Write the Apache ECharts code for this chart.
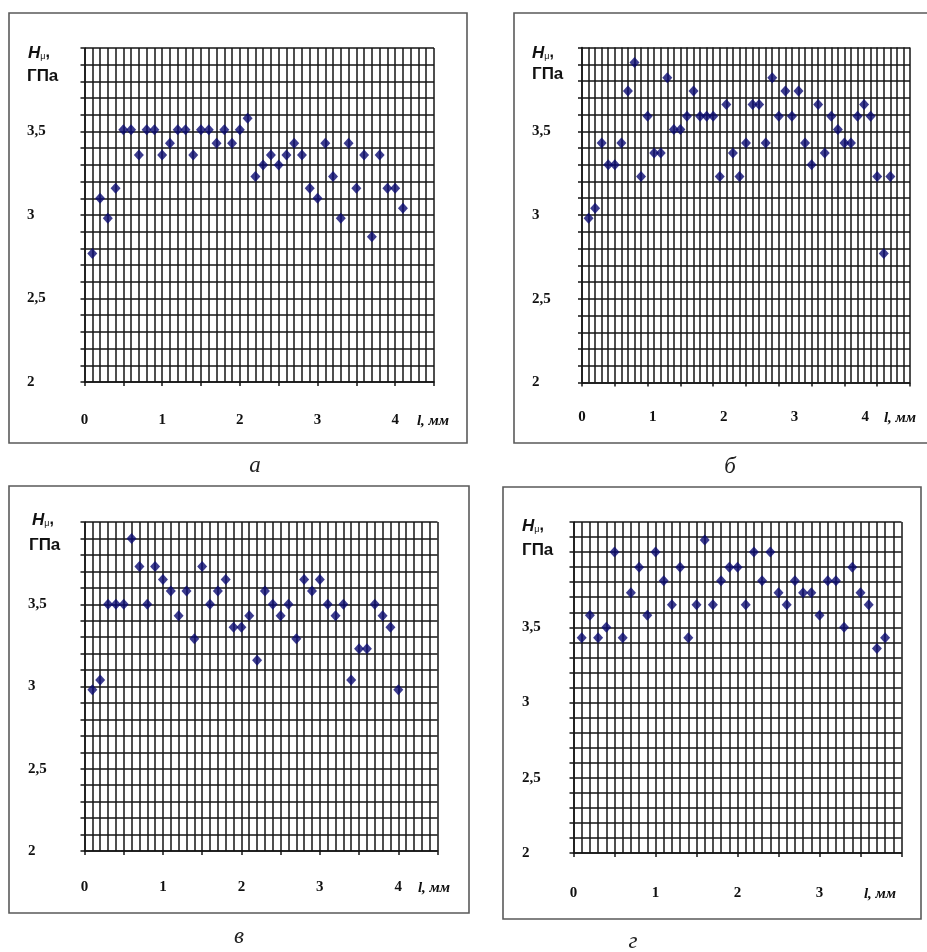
<!DOCTYPE html>
<html>
<head>
<meta charset="utf-8">
<script src="https://cdn.jsdelivr.net/npm/echarts@6/dist/echarts.min.js"></script>
<style>
  body { margin: 0; background: #fff; }
  #chart { width: 927px; height: 952px; }
</style>
</head>
<body>
<div id="chart"></div>
<script>
// panel а: l, мм / Hμ, ГПа
const posA = [0.1, 0.2, 0.3, 0.4, 0.5, 0.6, 0.7, 0.8, 0.9, 1.0, 1.1, 1.2, 1.3, 1.4, 1.5, 1.6, 1.7, 1.8, 1.9, 2.0,
  2.1, 2.2, 2.3, 2.4, 2.5, 2.6, 2.7, 2.8, 2.9, 3.0, 3.1, 3.2, 3.3, 3.4, 3.5, 3.6, 3.7, 3.8, 3.9, 4.0, 4.1]
const hardA = [2.77, 3.10, 2.98, 3.16, 3.51, 3.51, 3.36, 3.51, 3.51, 3.36, 3.43, 3.51, 3.51, 3.36, 3.51, 3.51, 3.43, 3.51, 3.43, 3.51,
  3.58, 3.23, 3.30, 3.36, 3.30, 3.36, 3.43, 3.36, 3.16, 3.10, 3.43, 3.23, 2.98, 3.43, 3.16, 3.36, 2.87, 3.36, 3.16, 3.16, 3.04]

// panel б
const posB = [0.1, 0.2, 0.3, 0.4, 0.5, 0.6, 0.7, 0.8, 0.9, 1.0, 1.1, 1.2, 1.3, 1.4, 1.5, 1.6, 1.7, 1.8, 1.9, 2.0,
  2.1, 2.2, 2.3, 2.4, 2.5, 2.6, 2.7, 2.8, 2.9, 3.0, 3.1, 3.2, 3.3, 3.4, 3.5, 3.6, 3.7, 3.8, 3.9, 4.0,
  4.1, 4.2, 4.3, 4.4, 4.5, 4.6, 4.7]
const hardB = [2.98, 3.04, 3.43, 3.30, 3.30, 3.43, 3.74, 3.91, 3.23, 3.59, 3.37, 3.37, 3.82, 3.51, 3.51, 3.59, 3.74, 3.59, 3.59, 3.59,
  3.23, 3.66, 3.37, 3.23, 3.43, 3.66, 3.66, 3.43, 3.82, 3.59, 3.74, 3.59, 3.74, 3.43, 3.30, 3.66, 3.37, 3.59, 3.51, 3.43,
  3.43, 3.59, 3.66, 3.59, 3.23, 2.77, 3.23]

// panel в
const posC = [0.1, 0.2, 0.3, 0.4, 0.5, 0.6, 0.7, 0.8, 0.9, 1.0, 1.1, 1.2, 1.3, 1.4, 1.5, 1.6, 1.7, 1.8, 1.9, 2.0,
  2.1, 2.2, 2.3, 2.4, 2.5, 2.6, 2.7, 2.8, 2.9, 3.0, 3.1, 3.2, 3.3, 3.4, 3.5, 3.6, 3.7, 3.8, 3.9, 4.0]
const hardC = [2.98, 3.04, 3.50, 3.50, 3.50, 3.90, 3.73, 3.50, 3.73, 3.65, 3.58, 3.43, 3.58, 3.29, 3.73, 3.50, 3.58, 3.65, 3.36, 3.36,
  3.43, 3.16, 3.58, 3.50, 3.43, 3.50, 3.29, 3.65, 3.58, 3.65, 3.50, 3.43, 3.50, 3.04, 3.23, 3.23, 3.50, 3.43, 3.36, 2.98]

// panel г
const posD = [0.1, 0.2, 0.3, 0.4, 0.5, 0.6, 0.7, 0.8, 0.9, 1.0, 1.1, 1.2, 1.3, 1.4, 1.5, 1.6, 1.7, 1.8, 1.9, 2.0,
  2.1, 2.2, 2.3, 2.4, 2.5, 2.6, 2.7, 2.8, 2.9, 3.0, 3.1, 3.2, 3.3, 3.4, 3.5, 3.6, 3.7, 3.8]
const hardD = [3.43, 3.58, 3.43, 3.50, 4.00, 3.43, 3.73, 3.90, 3.58, 4.00, 3.81, 3.65, 3.90, 3.43, 3.65, 4.08, 3.65, 3.81, 3.90, 3.90,
  3.65, 4.00, 3.81, 4.00, 3.73, 3.65, 3.81, 3.73, 3.73, 3.58, 3.81, 3.81, 3.50, 3.90, 3.73, 3.65, 3.36, 3.43]

const xTickLabels = [0, 1, 2, 3, 4]
const yTickLabels = [2, 2.5, 3, 3.5]
const captions = ['а', 'б', 'в', 'г']

const ink = '#151515'
const markColor = '#0a0a72'
const serif = '"Liberation Serif", "Times New Roman", serif'
const sans = '"Liberation Sans", Arial, sans-serif'

const panels = [
  { x: posA, y: hardA, grid: { left: 84.5, top: 48, width: 349.5, height: 334 }, xMax: 4.5, yMax: 4,
    yMargin: 57.5, xMargin: 31, xLabels: xTickLabels,
    box: [9, 13, 458, 430], unit: [433, 421], name: [28, 53, 27, 76], caption: [255, 466] },
  { x: posB, y: hardB, grid: { left: 582, top: 47.5, width: 328, height: 335 }, xMax: 5, yMax: 4,
    yMargin: 50, xMargin: 27.5, xLabels: xTickLabels, labelMax: 4.63,
    box: [514, 13, 430, 430], unit: [900, 418], name: [532, 53, 532, 74], caption: [730, 467] },
  { x: posC, y: hardC, grid: { left: 84.5, top: 522, width: 353, height: 329 }, xMax: 4.5, yMax: 4,
    yMargin: 56.5, xMargin: 29, xLabels: xTickLabels,
    box: [9, 486, 460, 427], unit: [434, 888], name: [32, 520, 29, 545], caption: [239, 937] },
  { x: posD, y: hardD, grid: { left: 573.5, top: 522, width: 328, height: 331 }, xMax: 4, yMax: 4.2,
    yMargin: 51.5, xMargin: 33, xLabels: xTickLabels.slice(0, 4),
    box: [503, 487, 418, 432], unit: [880, 894], name: [522, 526, 522, 550], caption: [633, 942] }
]

const lineStyle = { color: ink, width: 1.5 }
const labelFont = { fontFamily: serif, fontWeight: 'bold', fontSize: 15, color: '#111' }
const hidden = { show: false }

function pickLabel(list) {
  return v => list.some(t => Math.abs(t - v) < 1e-6) ? String(v).replace('.', ',') : ''
}

const grids = []
const xAxes = []
const yAxes = []
const series = []
const graphics = []

panels.forEach((p, i) => {
  grids.push(p.grid)
  // fine grid: a line every 0.1 mm
  const xIndex = xAxes.length
  xAxes.push({
    gridIndex: i, type: 'value', position: 'bottom', min: 0, max: p.xMax, interval: 0.1,
    axisLine: { show: true, onZero: false, lineStyle },
    axisTick: hidden, axisLabel: hidden,
    splitLine: { show: true, lineStyle }
  })
  // ticks every 0.5 mm (and the numbers, where they sit on the grid)
  xAxes.push({
    gridIndex: i, type: 'value', position: 'bottom', min: 0, max: p.xMax, interval: 0.5,
    axisLine: hidden,
    axisTick: { show: true, length: 4, lineStyle },
    axisLabel: p.labelMax ? hidden : { margin: p.xMargin, formatter: pickLabel(p.xLabels), ...labelFont },
    splitLine: hidden
  })
  // б: the printed numbers drift from the grid, so they get their own scale
  if (p.labelMax) {
    xAxes.push({
      gridIndex: i, type: 'value', position: 'bottom', min: 0, max: p.labelMax, interval: 1,
      axisLine: hidden, axisTick: hidden, splitLine: hidden,
      axisLabel: { margin: p.xMargin, formatter: pickLabel(p.xLabels), ...labelFont }
    })
  }
  yAxes.push({
    gridIndex: i, type: 'value', position: 'left', min: 2, max: p.yMax, interval: 0.1,
    axisLine: { show: true, onZero: false, lineStyle },
    axisTick: { show: true, length: 4, lineStyle },
    axisLabel: { align: 'left', margin: p.yMargin, formatter: pickLabel(yTickLabels), ...labelFont },
    splitLine: { show: true, lineStyle }
  })
  series.push({
    type: 'scatter',
    xAxisIndex: xIndex,
    yAxisIndex: i,
    symbol: 'diamond',
    symbolSize: [10, 11],
    itemStyle: { color: markColor },
    data: p.x.map((v, k) => [v, p.y[k]])
  })

  const [bx, by, bw, bh] = p.box
  graphics.push({
    type: 'rect',
    shape: { x: bx, y: by, width: bw, height: bh },
    style: { fill: 'none', stroke: '#5a5a5a', lineWidth: 1.6 }
  })
  graphics.push({
    type: 'text',
    x: p.name[0],
    y: p.name[1],
    style: {
      text: '{h|H}{m|μ}{c|,}',
      textAlign: 'left',
      textVerticalAlign: 'middle',
      rich: {
        h: { fontFamily: sans, fontStyle: 'italic', fontWeight: 'bold', fontSize: 17, fill: '#111' },
        m: { fontFamily: sans, fontSize: 9, fill: '#111', padding: [7, 0, 0, 0] },
        c: { fontFamily: sans, fontWeight: 'bold', fontSize: 16, fill: '#111' }
      }
    }
  })
  graphics.push({
    type: 'text',
    x: p.name[2],
    y: p.name[3],
    style: { text: 'ГПа', font: 'bold 17px ' + sans, fill: '#111', textAlign: 'left', textVerticalAlign: 'middle' }
  })
  graphics.push({
    type: 'text',
    x: p.unit[0],
    y: p.unit[1],
    style: { text: 'l, мм', font: 'italic bold 15px ' + serif, fill: '#111', textAlign: 'center', textVerticalAlign: 'middle' }
  })
  graphics.push({
    type: 'text',
    x: p.caption[0],
    y: p.caption[1],
    style: { text: captions[i], font: 'italic 23px ' + serif, fill: '#222', textAlign: 'center', textVerticalAlign: 'middle' }
  })
})

const chart = echarts.init(document.getElementById('chart'))
chart.setOption({
  animation: false,
  backgroundColor: '#fff',
  grid: grids,
  xAxis: xAxes,
  yAxis: yAxes,
  series,
  graphic: { elements: graphics }
})
</script>
</body>
</html>
